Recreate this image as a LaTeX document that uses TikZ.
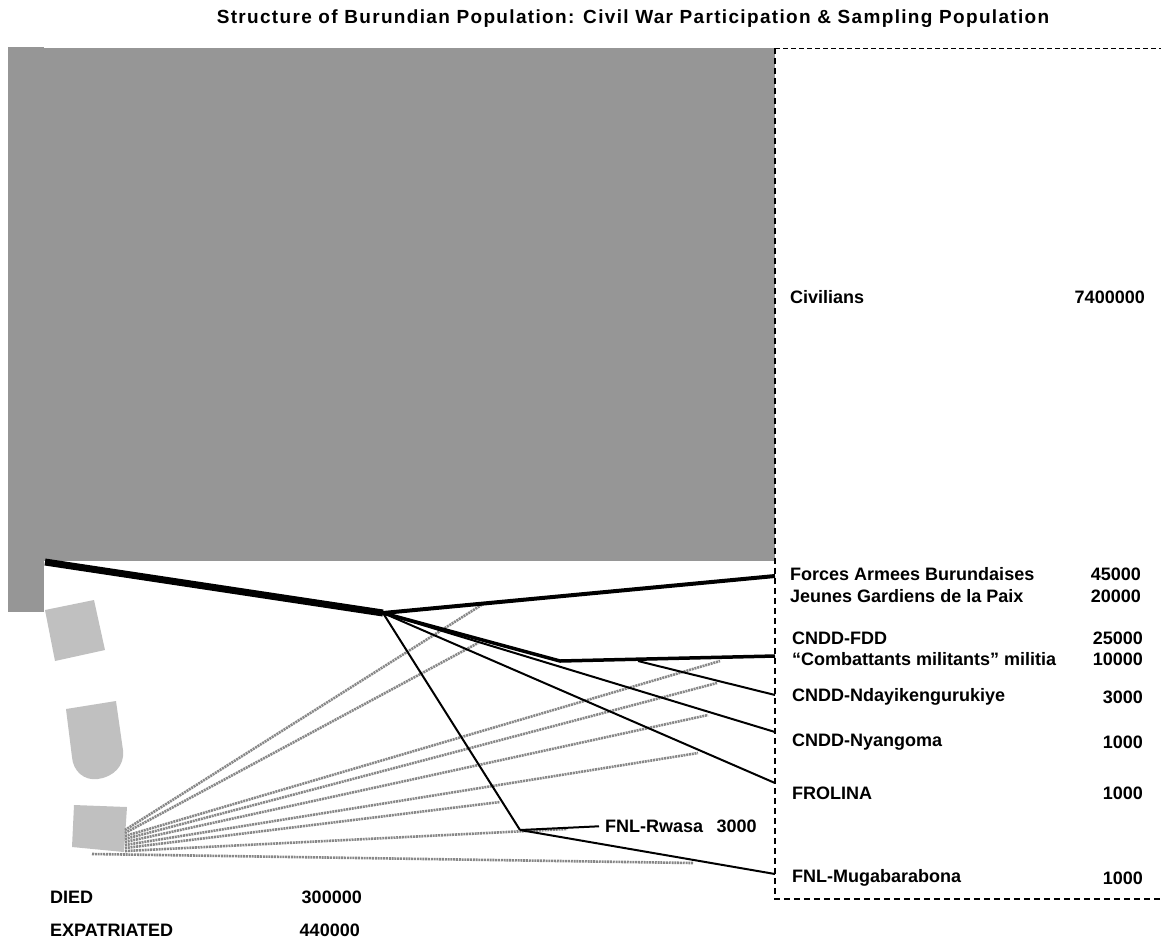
\documentclass[tikz,border=0pt]{standalone}
\usepackage{fontspec}
\setmainfont{Liberation Sans}
\usetikzlibrary{positioning}
\definecolor{popgray}{RGB}{150,150,150}
\definecolor{lostgray}{RGB}{192,192,192}
\definecolor{samplegray}{RGB}{135,135,135}

\begin{document}
\begin{tikzpicture}[x=1pt, y=-1pt,
        lbl/.style={anchor=west, inner sep=0pt, font=\fontsize{18}{20}\selectfont\bfseries},
        num/.style={anchor=east, inner sep=0pt, font=\fontsize{18}{20}\selectfont\bfseries},
        flow/.style={line width=2pt, black},
        sample/.style={line width=2.6pt, samplegray, dash pattern=on 2pt off 0.8pt}]
        \useasboundingbox (0,0) rectangle (1161,943);

        %% Title
        \node[inner sep=0pt, font=\fontsize{19}{21}\selectfont\bfseries\addfontfeature{LetterSpace=7}] (title) at (633,19) {Structure of Burundian Population: Civil War Participation \& Sampling Population};

        %% Population blocks
        \fill[popgray] (8,48) rectangle (775,561);
        \fill[popgray] (8,47) rectangle (44,612);
        \fill[lostgray] (45,610) -- (94,600) -- (105,650) -- (55,661) -- cycle;
        \fill[lostgray] (66,709) -- (116,701) -- (123,750) .. controls (125,766) and (113,777) .. (98,779) .. controls (84,781) and (73,771) .. (72,757) -- cycle;
        \fill[lostgray] (74,805) -- (127,807) -- (124,852) -- (72,847) -- cycle;

        %% Sampling frame
        \draw[line width=1pt, dash pattern=on 5pt off 3pt] (775,48) -- (1165,48);
        \draw[line width=2pt, dash pattern=on 6pt off 4pt] (775,48) -- (775,899) -- (1165,899);

        %% Labels
        \node[lbl] (civ) at (790,297) {Civilians};
        \node[num] (civn) at (1145,297) {7400000};
        \node[lbl] (fab) at (790,574) {Forces Armees Burundaises};
        \node[num] (fabn) at (1141,574) {45000};
        \node[lbl] (jgp) at (790,596) {Jeunes Gardiens de la Paix};
        \node[num] (jgpn) at (1141,596) {20000};
        \node[lbl] (fdd) at (792,638) {CNDD-FDD};
        \node[num] (fddn) at (1143,638) {25000};
        \node[lbl] (cmm) at (792,659) {``Combattants militants'' militia};
        \node[num] (cmmn) at (1143,659) {10000};
        \node[lbl] (nda) at (792,697) {CNDD-Ndayikengurukiye};
        \node[num] (ndan) at (1143,697) {3000};
        \node[lbl] (nya) at (792,742) {CNDD-Nyangoma};
        \node[num] (nyan) at (1143,742) {1000};
        \node[lbl] (fro) at (792,793) {FROLINA};
        \node[num] (fron) at (1143,793) {1000};
        \node[lbl] (mug) at (792,878) {FNL-Mugabarabona};
        \node[num] (mugn) at (1143,878) {1000};
        \node[lbl] (rwl) at (605,826) {FNL-Rwasa};
        \node[lbl, right=1.3em of rwl] (rwn) {3000};
        \node[lbl] (died) at (50,897) {DIED};
        \node[num] (diedn) at (362,897) {300000};
        \node[lbl] (exp) at (50,930) {EXPATRIATED};
        \node[num] (expn) at (360,930) {440000};

        %% Branch points
        \coordinate (base) at (45,562);
        \coordinate (hub) at (383,613);
        \coordinate (fddj) at (560,661);
        \coordinate (ndaj) at (638,661);
        \coordinate (rwj) at (520,830);
        \coordinate (fabe) at (775,576);
        \coordinate (fdde) at (775,656);
        \coordinate (ndae) at (775,695);
        \coordinate (nyae) at (775,732);
        \coordinate (froe) at (775,783);
        \coordinate (muge) at (775,874);

        %% Sampling lines
        \foreach \i/\sy/\ex/\ey in {1/830/483/604, 2/833/478/643, 3/836/720/661, 4/839/717/683,
                5/842/708/715, 6/845/698/753, 7/848/500/802, 8/851/567/829}{
            \coordinate (s\i) at (125,\sy);
            \coordinate (e\i) at (\ex,\ey);
            \draw[sample] (s\i) -- (e\i);
        }
        \coordinate (s9) at (92,854);
        \coordinate (e9) at (693,863);
        \draw[sample] (s9) -- (e9);

        %% Participation flows
        \draw[line width=7pt] (base) -- (hub);
        \draw[line width=4pt] (hub) -- (fabe);
        \draw[line width=3.5pt, line join=round] (hub) -- (fddj) -- (fdde);
        \draw[flow] (ndaj) -- (ndae);
        \draw[flow] (hub) -- (nyae);
        \draw[flow] (hub) -- (froe);
        \draw[flow] (hub) -- (rwj);
        \draw[flow, shorten >=6pt] (rwj) -- (rwl.west);
        \draw[flow] (rwj) -- (muge);
\end{tikzpicture}
\end{document}
